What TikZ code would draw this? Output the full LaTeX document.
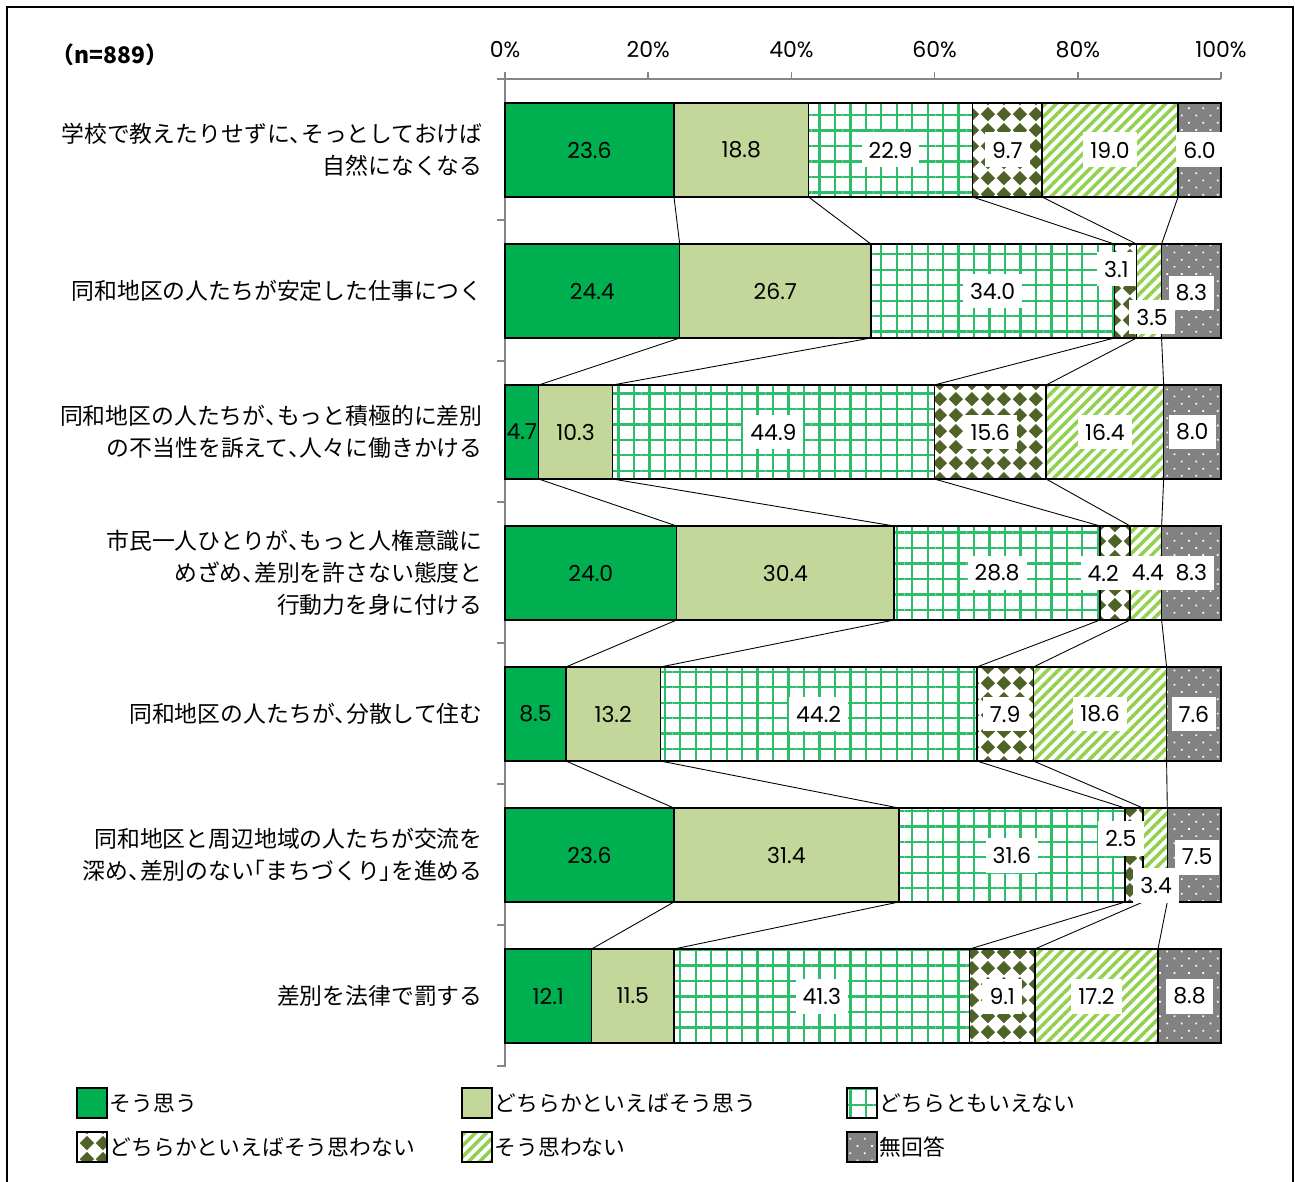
\documentclass[tikz,border=0pt]{standalone}
\usepackage{fontspec}
\setmainfont{Noto Sans CJK JP}
\newfontfamily\numfont{Poppins}
\usetikzlibrary{patterns.meta}

% Colours of the six answers
\definecolor{agreegreen}{HTML}{00B050}
\definecolor{ratheragree}{HTML}{C4D79B}
\definecolor{gridgreen}{HTML}{2DBE6C}
\definecolor{diaolive}{HTML}{4F6228}
\definecolor{stripegreen}{HTML}{92D050}
\definecolor{nogray}{HTML}{828282}
\definecolor{axisgray}{HTML}{868686}

% Half-width punctuation, as in the statements
\newcommand\tou{\makebox[0.5em][l]{、}}
\newcommand\kakko{\makebox[0.5em][r]{「}}
\newcommand\kokka{\makebox[0.5em][l]{」}}

% Diamond pattern for "rather disagree"
\tikzdeclarepattern{
  name=diamonds,
  type=uncolored,
  bottom left={(0pt,0pt)},
  top right={(9pt,9pt)},
  tile size={(9pt,9pt)},
  code={
    \tikzset{x=1pt,y=1pt}
    \path[fill] (4.5,0.4) -- (8.6,4.5) -- (4.5,8.6) -- (0.4,4.5) -- cycle;
  }
}

\tikzset{
  seg/.style={draw=black, line width=0.8pt},
  s1/.style={seg, fill=agreegreen},
  s2/.style={seg, fill=ratheragree},
  s3/.style={seg, pattern={Hatch[distance=8.8pt, line width=1.3pt]}, pattern color=gridgreen},
  s4/.style={seg, pattern=diamonds, pattern color=diaolive},
  s5/.style={seg, pattern={Lines[angle=45, distance=4.4pt, line width=2pt]}, pattern color=stripegreen},
  s6/.style={seg, preaction={fill=nogray}, pattern={Dots[angle=45, distance=5.8pt, radius=0.7pt]}, pattern color=white},
  lab/.style={font=\numfont\fontsize{12.5}{14}\selectfont, inner sep=0pt},
  lab1/.style={lab},
  lab2/.style={lab},
  boxlab/.style={lab, fill=white, inner xsep=4pt, minimum height=0.7cm},
  lab3/.style={boxlab},
  lab4/.style={boxlab},
  lab5/.style={boxlab},
  lab6/.style={boxlab},
  link/.style={line width=0.5pt},
  axis/.style={draw=axisgray, line width=1pt},
  cat/.style={anchor=east, align=right, inner sep=0pt, font=\fontsize{13}{18.2}\selectfont},
  legbox/.style={draw=black!70, line width=0.6pt, minimum size=0.6cm, inner sep=0pt},
  legtext/.style={anchor=west, inner sep=1pt, font=\fontsize{12.4}{14}\selectfont},
}

\begin{document}
\begin{tikzpicture}[x=0.02cm, y=-0.02cm]

    % Page size and outer frame
    \useasboundingbox (0,0) rectangle (1295,1182);
    \draw[line width=0.8pt] (7,7) rectangle (1293,1195);

    % Sample size
    \node[font=\bfseries\fontsize{13}{16}\selectfont] (n) at (110,55) {（n=889）};

    % Percent axis on top
    \draw[axis] (497,79) -- (1221,79);
    \foreach \p in {0,20,...,100} {
      \draw[axis] ({505+7.16*\p},72) -- ({505+7.16*\p},79);
      \node[lab] (t\p) at ({505+7.16*\p},50) {\p\%};
    }

    % Category axis on the left
    \draw[axis] (505,72) -- (505,1067);
    \foreach \k in {0,...,7}
      \draw[axis] (497,{79+141*\k}) -- (505,{79+141*\k});

    % Stacked bars: value/label dx/label dy for each answer, then row total
    \foreach \r/\vals/\tot in {
      1/{23.6/0/0,18.8/0/0,22.9/0/0,9.7/0/0,19.0/0/0,6.0/0/0}/100.0,
      2/{24.4/0/0,26.7/0/0,34.0/0/0,3.1/-9/-22,3.5/3/26,8.3/0/2}/100.0,
      3/{4.7/0/0,10.3/0/0,44.9/0/0,15.6/0/0,16.4/0/0,8.0/0/0}/99.9,
      4/{24.0/0/0,30.4/0/0,28.8/0/0,4.2/-12/0,4.4/2/0,8.3/0/0}/100.1,
      5/{8.5/0/0,13.2/0/0,44.2/0/0,7.9/0/0,18.6/0/0,7.6/0/0}/100.0,
      6/{23.6/0/0,31.4/0/0,31.6/0/0,2.5/-13/-17,3.4/1/30,7.5/3/2}/100.0,
      7/{12.1/0/0,11.5/0/0,41.3/0/0,9.1/0/0,17.2/0/0,8.8/0/0}/100.0} {
      \pgfmathsetmacro\yt{103+141*(\r-1)}
      \pgfmathsetmacro\yb{\yt+94}
      \pgfmathsetmacro\ym{\yt+47}
      \xdef\cum{0}
      \foreach \v/\dx/\dy [count=\k] in \vals {
        \pgfmathsetmacro\xa{505+716*(\cum/\tot)}
        \pgfmathsetmacro\cumn{\cum+\v}
        \xdef\cum{\cumn}
        \pgfmathsetmacro\xb{505+716*(\cum/\tot)}
        \draw[s\k] (\xa,\yt) rectangle (\xb,\yb);
        \coordinate (r\r-\k-t) at (\xb,\yt);
        \coordinate (r\r-\k-b) at (\xb,\yb);
        \coordinate (r\r-\k-c) at ({(\xa+\xb)/2+\dx},{\ym+(\dy)});
      }
    }

    % Series lines between neighbouring bars
    \foreach \r in {1,...,6}
      \foreach \k in {1,...,5} {
        \pgfmathtruncatemacro\rn{\r+1}
        \draw[link] (r\r-\k-b) -- (r\rn-\k-t);
      }

    % Value labels
    \foreach \r/\vals in {
      1/{23.6,18.8,22.9,9.7,19.0,6.0},
      2/{24.4,26.7,34.0,3.1,3.5,8.3},
      3/{4.7,10.3,44.9,15.6,16.4,8.0},
      4/{24.0,30.4,28.8,4.2,4.4,8.3},
      5/{8.5,13.2,44.2,7.9,18.6,7.6},
      6/{23.6,31.4,31.6,2.5,3.4,7.5},
      7/{12.1,11.5,41.3,9.1,17.2,8.8}}
      \foreach \v [count=\k] in \vals
        \node[lab\k] (v\r-\k) at (r\r-\k-c) {\v};

    % Statements on the left
    \node[cat] (c1) at (483,150) {学校で教えたりせずに\tou そっとしておけば\\自然になくなる};
    \node[cat] (c2) at (483,291) {同和地区の人たちが安定した仕事につく};
    \node[cat] (c3) at (483,432) {同和地区の人たちが\tou もっと積極的に差別\\の不当性を訴えて\tou 人々に働きかける};
    \node[cat] (c4) at (483,573) {市民一人ひとりが\tou もっと人権意識に\\めざめ\tou 差別を許さない態度と\\行動力を身に付ける};
    \node[cat] (c5) at (483,714) {同和地区の人たちが\tou 分散して住む};
    \node[cat] (c6) at (483,855) {同和地区と周辺地域の人たちが交流を\\深め\tou 差別のない\kakko まちづくり\kokka を進める};
    \node[cat] (c7) at (483,996) {差別を法律で罰する};

    % Legend
    \node[legbox, s1] (k1) at (92,1103) {};
    \node[legtext] (k1t) at (k1.east) {そう思う};
    \node[legbox, s2] (k2) at (477,1103) {};
    \node[legtext] (k2t) at (k2.east) {どちらかといえばそう思う};
    \node[legbox, s3] (k3) at (862,1103) {};
    \node[legtext] (k3t) at (k3.east) {どちらともいえない};
    \node[legbox, s4] (k4) at (92,1147) {};
    \node[legtext] (k4t) at (k4.east) {どちらかといえばそう思わない};
    \node[legbox, s5] (k5) at (477,1147) {};
    \node[legtext] (k5t) at (k5.east) {そう思わない};
    \node[legbox, s6] (k6) at (862,1147) {};
    \node[legtext] (k6t) at (k6.east) {無回答};

\end{tikzpicture}
\end{document}
